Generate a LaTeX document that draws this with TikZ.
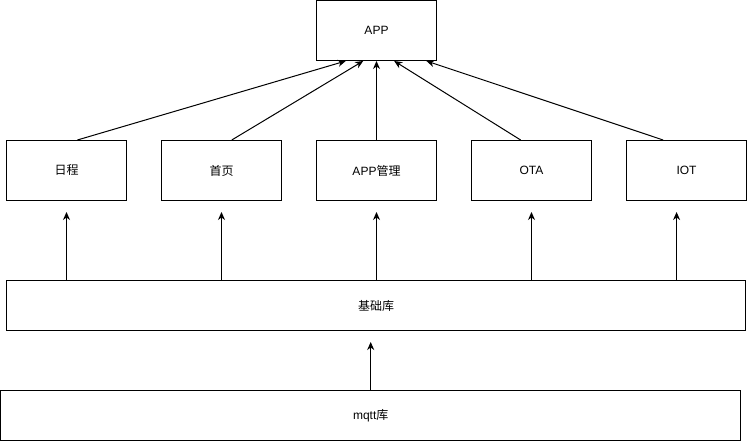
\documentclass[tikz,border=0pt]{standalone}
\usepackage{fontspec}
\setmainfont{Liberation Sans}
\newfontfamily\cjk{Noto Sans CJK SC}
\usetikzlibrary{calc,arrows.meta}
\tikzset{
  box/.style={draw=black, line width=1pt, inner sep=0pt, font=\fontsize{12}{14}\selectfont},
  rowbox/.style={box, minimum width=120pt, minimum height=60pt},
  link/.style={line width=1pt, -{Stealth[length=8pt,width=7pt,inset=2.5pt]}},
}
\begin{document}
\begin{tikzpicture}[x=1pt,y=-1pt]
  \useasboundingbox[fill=white] (0,0) rectangle (747,441);
  % top application node
  \node[rowbox] (app) at (376.5,30.5) {APP};
  % feature modules
  \node[rowbox] (r1) at (66.5,170.5) {\cjk 日程};
  \node[rowbox] (r2) at (221.5,170.5) {\cjk 首页};
  \node[rowbox] (r3) at (376.5,170.5) {APP{\cjk 管理}};
  \node[rowbox] (r4) at (531.5,170.5) {OTA};
  \node[rowbox] (r5) at (686.5,170.5) {IOT};
  % shared libraries
  \node[box, minimum width=739.5pt, minimum height=50pt] (base) at (376.2,305.5) {\cjk 基础库};
  \node[box, minimum width=740pt, minimum height=49.5pt] (mqtt) at (370.7,415.5) {mqtt{\cjk 库}};
  % modules feeding the app
  \draw[link] ($(r1.north west)!0.59!(r1.north east)$) -- ($(app.south west)!0.246!(app.south east)$);
  \draw[link] ($(r2.north west)!0.585!(r2.north east)$) -- ($(app.south west)!0.39!(app.south east)$);
  \draw[link] (r3.north) -- (app.south);
  \draw[link] ($(r4.north west)!0.41!(r4.north east)$) -- ($(app.south west)!0.646!(app.south east)$);
  \draw[link] ($(r5.north west)!0.307!(r5.north east)$) -- ($(app.south west)!0.9125!(app.south east)$);
  % base library feeding the modules
  \foreach \r in {r1,r2,r3,r4}
    \draw[link, shorten >=11pt] (\r.south |- base.north) -- (\r.south);
  \coordinate (r5in) at ($(r5.south west)!0.418!(r5.south east)$);
  \draw[link, shorten >=11pt] (r5in |- base.north) -- (r5in);
  % mqtt library feeding the base library
  \draw[link, shorten >=11pt] (mqtt.north) -- (mqtt.north |- base.south);
\end{tikzpicture}
\end{document}
